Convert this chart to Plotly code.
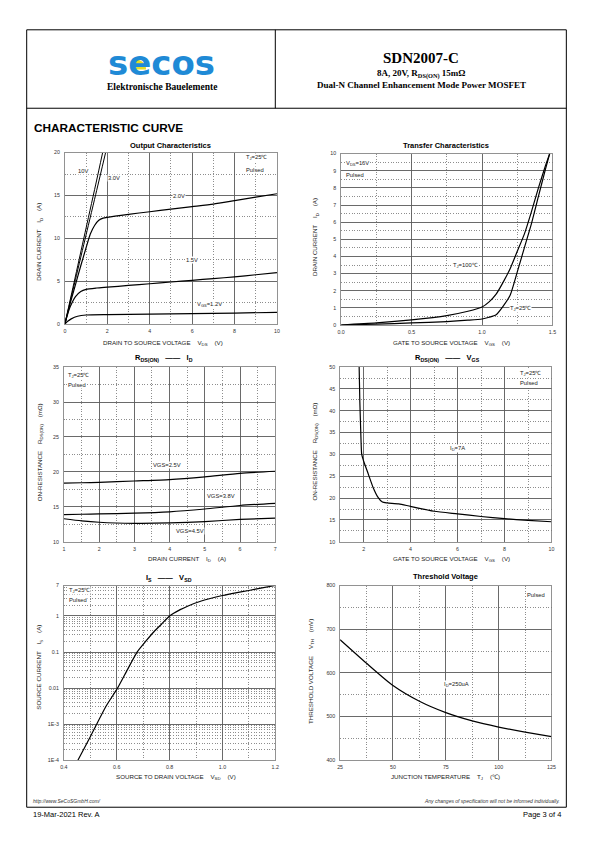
import plotly.graph_objects as go
import math

W, H = 595, 842
def PX(x): return x / W
def PY(y): return 1 - y / H

# ---------------- DATA ----------------
# Output characteristics (VDS [V] -> ID [A])
out_vds_10v = [0, 0.5, 1.0, 1.5, 1.78]
out_id_10v = [0, 5.6, 11.2, 16.8, 20.0]
out_vds_3v = [0, 0.5, 1.0, 1.5, 1.92]
out_id_3v = [0, 5.2, 10.4, 15.6, 20.0]
out_vds_2v = [0, 0.25, 0.5, 0.75, 1.0, 1.2, 1.4, 1.6, 1.8, 2.0, 3, 4, 5, 6, 7, 8, 9, 10]
out_id_2v = [0, 2.4, 4.6, 6.8, 8.9, 10.5, 11.5, 12.1, 12.35, 12.45, 12.8, 13.1, 13.4, 13.7, 14.0, 14.4, 14.8, 15.2]
out_vds_15v = [0, 0.1, 0.25, 0.5, 0.75, 1.0, 1.5, 2, 3, 4, 5, 6, 7, 8, 9, 10]
out_id_15v = [0, 0.9, 2.0, 3.2, 3.8, 4.05, 4.2, 4.3, 4.5, 4.7, 4.9, 5.1, 5.3, 5.5, 5.75, 6.0]
out_vds_12v = [0, 0.15, 0.3, 0.6, 1.0, 2, 4, 6, 8, 10]
out_id_12v = [0, 0.35, 0.6, 0.9, 1.05, 1.1, 1.15, 1.2, 1.28, 1.35]

# Transfer characteristics (VGS [V] -> ID [A])
tr_vgs = [0, 0.25, 0.5, 0.75, 0.9, 1.0, 1.05, 1.1, 1.15, 1.2, 1.25, 1.3, 1.35, 1.4, 1.45, 1.48]
tr_id_100 = [0, 0.12, 0.3, 0.55, 0.8, 1.05, 1.35, 1.8, 2.5, 3.3, 4.3, 5.3, 6.6, 8.0, 9.3, 10.0]
tr_id_25 = [0, 0.05, 0.12, 0.2, 0.28, 0.35, 0.45, 0.6, 1.1, 1.75, 3.1, 4.5, 5.9, 7.5, 9.1, 10.0]

# RDS(ON) vs ID (ID [A] -> RDS [mOhm])
rid_id = [1, 1.5, 2, 3, 4, 5, 6, 7]
rid_25v = [18.4, 18.45, 18.5, 18.7, 18.9, 19.3, 19.8, 20.1]
rid_38v = [13.9, 13.95, 14.0, 14.1, 14.3, 14.7, 15.2, 15.5]
rid_45v = [13.3, 13.0, 12.8, 12.65, 12.7, 12.9, 13.2, 13.4]

# RDS(ON) vs VGS (VGS [V] -> RDS [mOhm])
rvg_vgs = [1.81, 1.84, 1.88, 1.92, 2.0, 2.2, 2.4, 2.6, 2.8, 3.0, 3.5, 4.0, 5, 6, 7, 8, 9, 10]
rvg_rds = [50, 42, 35, 30, 28.5, 25.5, 22.5, 20.3, 19.1, 18.9, 18.7, 18.1, 17.0, 16.4, 15.8, 15.3, 14.9, 14.6]

# IS vs VSD (VSD [V] -> IS [A])
is_vsd = [0.453, 0.5, 0.524, 0.56, 0.603, 0.64, 0.677, 0.71, 0.74, 0.77, 0.8, 0.84, 0.87, 0.92, 1.0, 1.05, 1.1, 1.15, 1.2]
is_is = [1e-4, 4.5e-4, 1e-3, 3.2e-3, 0.01, 0.032, 0.1, 0.2, 0.36, 0.6, 1.0, 1.5, 1.9, 2.6, 3.7, 4.4, 5.1, 6.0, 7.0]

# Threshold voltage (TJ [C] -> VTH [mV])
vth_tj = [25, 37.5, 50, 62.5, 75, 87.5, 100, 112.5, 125]
vth_mv = [676, 622, 571, 535, 509, 490, 476, 464.5, 454]

is_tickvals = [1e-4, 1e-3, 0.01, 0.1, 1, 7]
is_ticktext = ["1E-4", "1E-3", "0.01", "0.1", "1", "7"]

# ---------------- FIGURE ----------------
fig = go.Figure()
LW = 1.2
def line(x, y, ax, w=LW):
    fig.add_trace(go.Scatter(x=x, y=y, mode="lines", xaxis="x" + ax, yaxis="y" + ax,
                             line=dict(color="black", width=w, shape="spline", smoothing=0.6),
                             hoverinfo="skip", showlegend=False))

line(out_vds_10v, out_id_10v, "", 1.0)
line(out_vds_3v, out_id_3v, "", 1.0)
line(out_vds_2v, out_id_2v, "")
line(out_vds_15v, out_id_15v, "")
line(out_vds_12v, out_id_12v, "")
line(tr_vgs, tr_id_100, "2")
line(tr_vgs, tr_id_25, "2")
line(rid_id, rid_25v, "3")
line(rid_id, rid_38v, "3")
line(rid_id, rid_45v, "3")
line(rvg_vgs, rvg_rds, "4")
line(is_vsd, is_is, "5")
line(vth_tj, vth_mv, "6")

TICKFONT = dict(family="Liberation Sans", size=5.3, color="#333")
MAJ = dict(gridcolor="#5a5a5a", gridwidth=0.9)
def minor(dtick=None, tickvals=None):
    d = dict(showgrid=True, gridcolor="#707070", griddash="1px,1.6px", gridwidth=0.8, ticks="")
    if dtick is not None:
        d["dtick"] = dtick
    if tickvals is not None:
        d["tickvals"] = tickvals
    return d

def xax(x0, x1, rng, dtick=None, mdtick=None, tickformat=None, tickvals=None, mvals=None, anchor="y"):
    d = dict(domain=[PX(x0), PX(x1)], range=rng, showline=True, mirror=True, linecolor="#777",
             linewidth=0.8, showgrid=True, zeroline=False, tickfont=TICKFONT, ticks="",
             ticklabelstandoff=2, anchor=anchor, minor=minor(mdtick, mvals), **MAJ)
    if dtick is not None:
        d["dtick"] = dtick
        d["tick0"] = 0
    if tickvals is not None:
        d["tickvals"] = tickvals
    if tickformat:
        d["tickformat"] = tickformat
    return d

def yax(y0, y1, rng, dtick=None, mdtick=None, tickvals=None, ticktext=None, mvals=None, anchor="x", typ="linear"):
    d = dict(domain=[PY(y1), PY(y0)], range=rng, showline=True, mirror=True, linecolor="#777",
             linewidth=0.8, showgrid=True, zeroline=False, tickfont=TICKFONT, ticks="",
             ticklabelstandoff=3, anchor=anchor, type=typ, minor=minor(mdtick, mvals), **MAJ)
    if dtick is not None:
        d["dtick"] = dtick
        d["tick0"] = 0
    if tickvals is not None:
        d["tickvals"] = tickvals
    if ticktext is not None:
        d["ticktext"] = ticktext
    return d

is_minor = [m * 10 ** e for e in range(-4, 1) for m in range(2, 10)]

fig.update_layout(
    xaxis=xax(61.7, 276.7, [0, 10], dtick=2, mdtick=1, anchor="y"),
    yaxis=yax(150.7, 323.3, [0, 20], dtick=5, mdtick=2.5, anchor="x"),
    xaxis2=xax(341.7, 556, [0, 1.5], dtick=0.5, mdtick=0.25, tickformat=".1f", anchor="y2"),
    yaxis2=yax(151.7, 324.3, [0, 10], dtick=1, mdtick=0.5, anchor="x2"),
    xaxis3=xax(60.7, 275, [1, 7], dtick=1, mdtick=0.5, anchor="y3"),
    yaxis3=yax(366.7, 542.7, [10, 35], dtick=5, mdtick=2.5, anchor="x3"),
    xaxis4=xax(340.7, 555, [1, 10], tickvals=[2, 4, 6, 8, 10], mvals=[3, 5, 7, 9], anchor="y4"),
    yaxis4=yax(366.7, 542.7, [10, 50], dtick=5, mdtick=2.5, anchor="x4"),
    xaxis5=xax(60.7, 275, [0.4, 1.2], dtick=0.2, mdtick=0.1, tickformat=".1f", anchor="y5"),
    yaxis5=yax(586.7, 762.7, [-4, 0.845], tickvals=is_tickvals, ticktext=is_ticktext,
               mvals=is_minor, anchor="x5", typ="log"),
    xaxis6=xax(340.7, 555, [25, 125], tickvals=[25, 50, 75, 100, 125], mvals=[37.5, 62.5, 87.5, 112.5], anchor="y6"),
    yaxis6=yax(586.7, 762.7, [400, 800], dtick=100, mdtick=50, anchor="x6"),
)

ann = []
def A(text, x, y, size=6.2, xanchor="center", yanchor="middle", xref="paper", yref="paper",
      bold=False, color="#222", family="Liberation Sans", angle=0, bg=None, italic=False):
    t = text
    if bold:
        t = "<b>" + t + "</b>"
    if italic:
        t = "<i>" + t + "</i>"
    if xref == "paper":
        x = PX(x)
    if yref == "paper":
        y = PY(y)
    d = dict(text=t, x=x, y=y, xref=xref, yref=yref, xanchor=xanchor, yanchor=yanchor,
             showarrow=False, textangle=angle, font=dict(family=family, size=size, color=color))
    if bg:
        d["bgcolor"] = bg
        d["borderpad"] = 0
    ann.append(d)

NB = "\u00a0"
SP = NB * 4
# chart titles
A("Output Characteristics", 169, 144, 7.5, bold=True, color="#000")
A("Transfer Characteristics", 448, 144, 7.5, bold=True, color="#000")
A("R<sub>DS(ON)</sub>" + NB * 3 + "——" + NB * 3 + "I<sub>D</sub>", 162, 358, 7.5, bold=True, color="#000")
A("R<sub>DS(ON)</sub>" + NB * 3 + "——" + NB * 3 + "V<sub>GS</sub>", 450, 358, 7.5, bold=True, color="#000")
A("I<sub>S</sub>" + NB * 3 + "——" + NB * 3 + "V<sub>SD</sub>", 167, 579, 7.5, bold=True, color="#000")
A("Threshold Voltage", 448, 578, 7.5, bold=True, color="#000")

# x-axis titles
A("DRAIN TO SOURCE VOLTAGE" + SP + "V<sub>DS</sub>" + SP + "(V)", 161, 342)
A("GATE TO SOURCE VOLTAGE" + SP + "V<sub>GS</sub>" + SP + "(V)", 454, 342)
A("DRAIN CURRENT" + SP + "I<sub>D</sub>" + SP + "(A)", 186, 560)
A("GATE TO SOURCE VOLTAGE" + SP + "V<sub>GS</sub>" + SP + "(V)", 454, 560)
A("SOURCE TO DRAIN VOLTAGE" + SP + "V<sub>SD</sub>" + SP + "(V)", 174, 780)
A("JUNCTION TEMPERATURE" + SP + "T<sub>J</sub>" + SP + "(℃)", 448, 780)

# y-axis titles
A("DRAIN CURRENT" + SP + "I<sub>D</sub>" + SP + "(A)", 36, 241, angle=-90)
A("DRAIN CURRENT" + SP + "I<sub>D</sub>" + SP + "(A)", 316, 236, angle=-90)
A("ON-RESISTANCE" + SP + "R<sub>DS(ON)</sub>" + SP + "(mΩ)", 36, 453, angle=-90)
A("ON-RESISTANCE" + SP + "R<sub>DS(ON)</sub>" + SP + "(mΩ)", 315, 452, angle=-90)
A("SOURCE CURRENT" + SP + "I<sub>S</sub>" + SP + "(A)", 36, 669, angle=-90)
A("THRESHOLD VOLTAGE" + SP + "V<sub>TH</sub>" + SP + "(mV)", 311, 673, angle=-90)

# in-plot labels
S = 5.8
A("10V", 0.85, 17.8, S, xref="x", yref="y", bg="white")
A("3.0V", 2.3, 17.0, S, xref="x", yref="y", bg="white")
A("2.0V", 5.4, 14.9, S, xref="x", yref="y", bg="white")
A("1.5V", 6.0, 7.5, S, xref="x", yref="y", bg="white")
A("V<sub>GS</sub>=1.2V", 6.8, 2.3, S, xref="x", yref="y", bg="white")
A("T<sub>J</sub>=25℃", 8.5, 19.4, S, xref="x", yref="y", xanchor="left", bg="white")
A("Pulsed", 8.5, 18.0, S, xref="x", yref="y", xanchor="left", bg="white")

A("V<sub>DS</sub>=16V", 0.03, 9.4, S, xref="x2", yref="y2", xanchor="left", bg="white")
A("Pulsed", 0.03, 8.75, S, xref="x2", yref="y2", xanchor="left", bg="white")
A("T<sub>J</sub>=100℃", 0.88, 3.45, S, xref="x2", yref="y2", bg="white")
A("T<sub>J</sub>=25℃", 1.27, 0.95, S, xref="x2", yref="y2", bg="white")

A("T<sub>J</sub>=25℃", 1.1, 33.8, S, xref="x3", yref="y3", xanchor="left", bg="white")
A("Pulsed", 1.1, 32.5, S, xref="x3", yref="y3", xanchor="left", bg="white")
A("VGS=2.5V", 3.92, 21.0, S, xref="x3", yref="y3", bg="white")
A("VGS=3.8V", 5.45, 16.5, S, xref="x3", yref="y3", bg="white")
A("VGS=4.5V", 4.57, 11.6, S, xref="x3", yref="y3", bg="white")

A("T<sub>J</sub>=25℃", 8.6, 48.5, S, xref="x4", yref="y4", xanchor="left", bg="white")
A("Pulsed", 8.6, 46.4, S, xref="x4", yref="y4", xanchor="left", bg="white")
A("I<sub>D</sub>=7A", 6.0, 31.4, S, xref="x4", yref="y4", bg="white")

A("T<sub>J</sub>=25℃", 0.415, 0.71, S, xref="x5", yref="y5", xanchor="left", bg="white")
A("Pulsed", 0.415, 0.43, S, xref="x5", yref="y5", xanchor="left", bg="white")

A("Pulsed", 117.5, 779, S, xref="x6", yref="y6", bg="white")
A("I<sub>D</sub>=250uA", 80, 574, S, xref="x6", yref="y6", bg="white")

# header / page texts
A("SDN2007-C", 423, 55, 15, bold=True, color="#000", family="Liberation Serif")
A("8A, 20V, R<sub>DS(ON)</sub> 15mΩ", 423, 72, 9, bold=True, color="#000", family="Liberation Serif")
A("Dual-N Channel Enhancement Mode Power MOSFET", 423, 83, 9, bold=True, color="#000", family="Liberation Serif")
A("secos", 160, 60.5, 34, bold=True, color="#1f8ad6", family="DejaVu Sans")
A("Elektronische Bauelemente", 160, 85, 9.5, bold=True, color="#000", family="Liberation Serif")
A("CHARACTERISTIC CURVE", 28, 126, 11.8, bold=True, color="#000", xanchor="left")
A("http://www.SeCoSGmbH.com/", 27, 804, 5, xanchor="left", italic=True, color="#333")
A("Any changes of specification will not be informed individually.", 566, 804, 5, xanchor="right", italic=True, color="#333")
A("19-Mar-2021 Rev. A", 27, 817, 7.5, xanchor="left", color="#000")
A("Page 3 of 4", 567, 817, 7.5, xanchor="right", color="#000")

shapes = [
    dict(type="rect", xref="paper", yref="paper", x0=PX(23), x1=PX(570), y0=PY(810), y1=PY(27),
         line=dict(color="black", width=1)),
    dict(type="line", xref="paper", yref="paper", x0=PX(23), x1=PX(570), y0=PY(106), y1=PY(106),
         line=dict(color="black", width=1)),
    dict(type="line", xref="paper", yref="paper", x0=PX(275), x1=PX(275), y0=PY(27), y1=PY(106),
         line=dict(color="black", width=1)),
]
# yellow quarter disk in logo (shows through the eye of the 'e')
cx, cy, r = 134, 67, 10
pts = [(cx, cy)] + [(cx + r * math.sin(math.radians(a)), cy - r * math.cos(math.radians(a))) for a in range(0, 91, 10)]
path = "M " + " L ".join(f"{PX(x):.5f},{PY(y):.5f}" for x, y in pts) + " Z"
shapes.append(dict(type="path", xref="paper", yref="paper", path=path, fillcolor="#e6dc28",
                   line=dict(width=0), layer="above"))

fig.update_layout(width=W, height=H, margin=dict(l=0, r=0, t=0, b=0), paper_bgcolor="white",
                  plot_bgcolor="white", showlegend=False, annotations=ann, shapes=shapes)
fig.write_html("out.html", config=dict(displayModeBar=False, staticPlot=True),
               post_script="document.body.style.margin='0';document.body.style.padding='0';"
                           "document.body.style.overflow='hidden';")
